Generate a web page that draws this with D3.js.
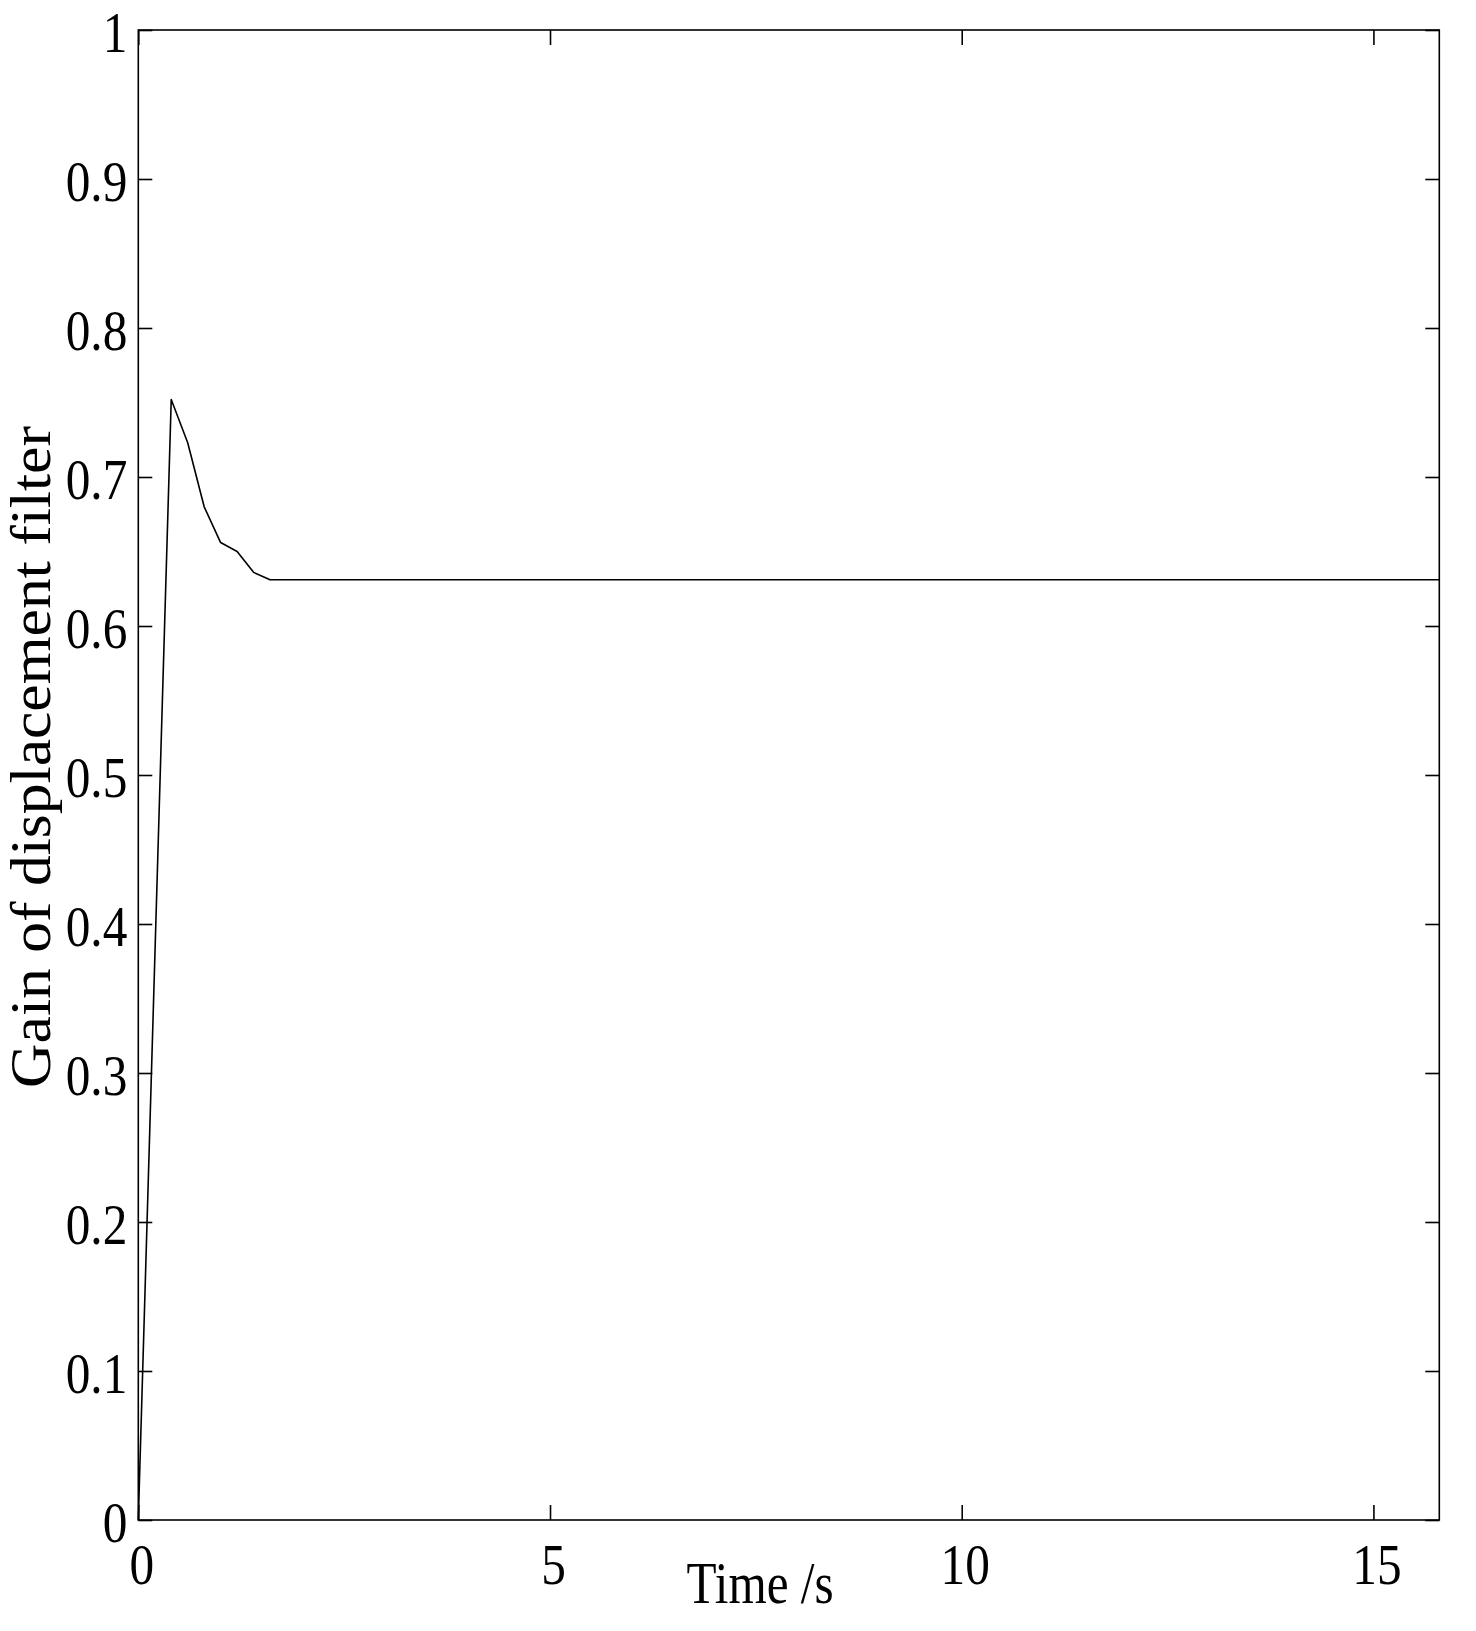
<!DOCTYPE html>
<html>
<head>
<meta charset="utf-8">
<script src="https://cdn.jsdelivr.net/npm/d3@7/dist/d3.min.js"></script>
<style>
  html, body { margin: 0; padding: 0; background: #fff; }
  svg { display: block; }
  text { font-family: "Liberation Serif", "Times New Roman", serif; fill: #000; }
</style>
</head>
<body>
<svg id="chart" width="1476" height="1631"></svg>
<script>
// Data
const timeValues = [0, 0.4, 0.6, 0.8, 1.0, 1.2, 1.4, 1.6, 15.8];
const gainValues = [0, 0.752, 0.723, 0.680, 0.656, 0.650, 0.636, 0.631, 0.631];
const xTickValues = [0, 5, 10, 15];
const yTickValues = [0, 0.1, 0.2, 0.3, 0.4, 0.5, 0.6, 0.7, 0.8, 0.9, 1];
const yTickLabels = ["0", "0.1", "0.2", "0.3", "0.4", "0.5", "0.6", "0.7", "0.8", "0.9", "1"];
const xLabel = "Time /s";
const yLabel = "Gain of displacement filter";

(function () {
const svg = d3.select("#chart");
const pLeft = 138.3, pRight = 1439.3, pTop = 30, pBottom = 1520;

const x = d3.scaleLinear().domain([0, 15.8]).range([pLeft, pRight]);
const y = d3.scaleLinear().domain([0, 1]).range([pBottom, pTop]);

const data = timeValues.map((t, i) => ({ t, v: gainValues[i] }));

// Frame
svg.append("rect")
  .attr("x", pLeft).attr("y", pTop)
  .attr("width", pRight - pLeft).attr("height", pBottom - pTop)
  .attr("fill", "none").attr("stroke", "#000").attr("stroke-width", 1.6);

function styleAxis(g) {
  g.select(".domain").remove();
  g.selectAll(".tick line").attr("stroke", "#000").attr("stroke-width", 1.6);
}

// Bottom axis (ticks inward)
const xb = svg.append("g").attr("transform", `translate(0,${pBottom})`)
  .call(d3.axisBottom(x).tickValues(xTickValues).tickSize(-15).tickFormat(d3.format("d")));
styleAxis(xb);
xb.selectAll(".tick text")
  .attr("font-size", 56)
  .attr("y", 0)
  .attr("dy", 0)
  .attr("transform", "translate(3,64) scale(0.88,1)");

// Top axis ticks (no labels)
const xt = svg.append("g").attr("transform", `translate(0,${pTop})`)
  .call(d3.axisTop(x).tickValues(xTickValues).tickSize(-15).tickFormat(""));
styleAxis(xt);

// Left axis
const yl = svg.append("g").attr("transform", `translate(${pLeft},0)`)
  .call(d3.axisLeft(y).tickValues(yTickValues).tickSize(-14)
    .tickFormat((d, i) => yTickLabels[i]));
styleAxis(yl);
yl.selectAll(".tick text")
  .attr("font-size", 56)
  .attr("x", 0)
  .attr("dy", 0)
  .attr("text-anchor", "end")
  .attr("transform", "translate(-11,21.5) scale(0.88,1)");

// Right axis ticks (no labels)
const yr = svg.append("g").attr("transform", `translate(${pRight},0)`)
  .call(d3.axisRight(y).tickValues(yTickValues).tickSize(-14).tickFormat(""));
styleAxis(yr);

// Line
svg.append("path")
  .datum(data)
  .attr("fill", "none")
  .attr("stroke", "#000")
  .attr("stroke-width", 1.6)
  .attr("stroke-linejoin", "round")
  .attr("d", d3.line().x(d => x(d.t)).y(d => y(d.v)));

// Axis labels
svg.append("text")
  .attr("transform", "translate(760,1603) scale(0.82,1)")
  .attr("text-anchor", "middle")
  .attr("font-size", 60)
  .text(xLabel);

svg.append("text")
  .attr("transform", "translate(50,757) rotate(-90) scale(1.1,1)")
  .attr("text-anchor", "middle")
  .attr("font-size", 56)
  .text(yLabel);
})();
</script>
</body>
</html>
